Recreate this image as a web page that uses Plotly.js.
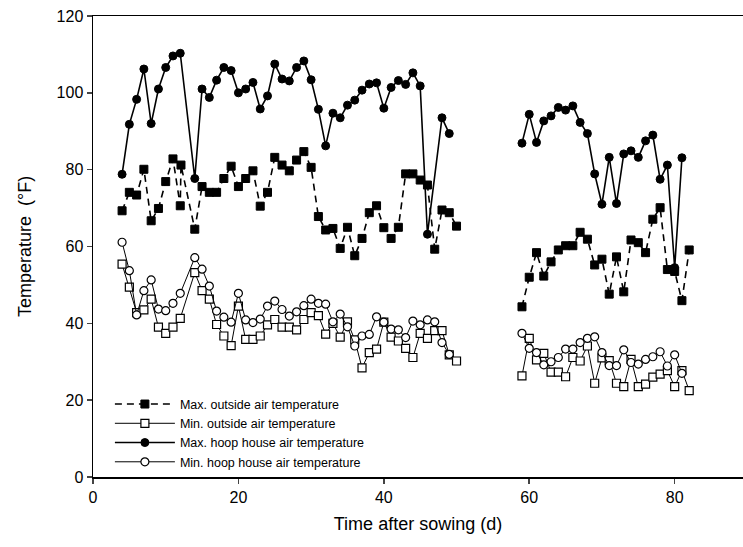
<!DOCTYPE html>
<html>
<head>
<meta charset="utf-8">
<script src="https://cdn.plot.ly/plotly-3.0.1.min.js"></script>
<style>
html,body{margin:0;padding:0;background:#fff;}
#chart{width:743px;height:547px;}
</style>
</head>
<body>
<div id="chart"></div>
<script>
// Days after sowing (null = gap between the two periods)
const daysMaxOut = [4,5,6,7,8,9,10,11,12,12.1,14,15,16,17,18,19,20,21,22,23,24,25,26,27,28,29,30,31,32,33,34,35,36,37,38,39,40,41,42,43,44,45,46,47,48,49,50,null,59,60,61,62,63,64,65,66,67,68,69,70,71,72,73,74,75,76,77,78,79,80,81,82];
const maxOutside = [69.3,74.1,73.4,80.1,66.7,69.9,76.9,82.8,70.6,81.2,64.5,75.6,74.1,74.1,77.7,80.9,75.6,77.7,79.7,70.5,74.1,83.2,81.2,79.7,82.5,84.7,80.6,67.8,64.3,64.7,59.5,65.0,57.6,62.1,68.8,70.6,64.9,62.1,65.0,78.9,78.9,77.3,76.0,59.3,69.5,68.8,65.3,null,44.3,52.0,58.4,52.3,56.0,59.1,60.2,60.2,63.7,61.9,55.2,56.7,47.6,57.3,48.2,61.7,61.0,58.4,67.1,70.1,54.0,53.5,45.9,59.1];

const daysMinOut = [4,5,6,7,8,9,10,11,12,14,15,16,17,18,19,20,21,22,23,24,25,26,27,28,29,30,31,32,33,34,35,36,37,38,39,40,41,42,43,44,45,46,47,48,49,50,null,59,60,61,62,63,64,65,66,67,68,69,70,71,72,73,74,75,76,77,78,79,80,81,82];
const minOutside = [55.4,49.4,42.8,43.5,46.3,39.0,37.4,39.0,41.3,53.2,48.5,46.3,39.7,36.7,34.2,44.5,35.8,35.8,36.7,39.6,41.0,39.0,39.0,38.3,41.0,42.8,42.0,37.2,40.0,36.4,40.4,35.7,28.4,32.4,33.3,40.3,36.4,35.4,33.5,31.1,37.4,36.1,38.1,38.1,31.8,30.2,null,26.3,36.1,30.5,32.2,27.3,27.3,26.1,31.1,30.2,34.1,24.4,31.0,30.3,24.4,23.5,30.6,23.5,24.2,26.0,26.8,27.7,23.5,27.7,22.5];

const daysMaxHoop = [4,5,6,7,8,9,10,11,12,14,15,16,17,18,19,20,21,22,23,24,25,26,27,28,29,30,31,32,33,34,35,36,37,38,39,40,41,42,43,44,45,46,48,49,null,59,60,61,62,63,64,65,66,67,68,69,70,71,72,73,74,75,76,77,78,79,80,81];
const maxHoop = [78.8,91.8,98.3,106.2,92.0,101.0,106.6,109.6,110.3,77.7,101.0,98.8,103.3,106.6,105.8,100.0,101.0,102.7,95.8,99.2,107.5,103.6,103.1,106.6,108.3,103.4,95.7,86.2,94.7,93.5,96.8,98.1,100.7,102.3,102.6,96.0,101.4,103.2,102.2,105.2,101.8,63.2,93.5,89.4,null,86.9,94.4,87.1,92.7,94.0,96.2,95.5,96.6,92.3,89.4,78.9,71.0,83.2,71.2,84.1,84.9,83.2,87.5,89.0,77.5,81.2,54.5,83.1];

const daysMinHoop = [4,5,6,7,8,9,10,11,12,14,15,16,17,18,19,20,21,22,23,24,25,26,27,28,29,30,31,32,33,34,35,36,37,38,39,40,41,42,43,44,45,46,47,48,49,null,59,60,61,62,63,64,65,66,67,68,69,70,71,72,73,74,75,76,77,78,79,80,81];
const minHoop = [61.1,53.7,42.2,48.5,51.3,43.7,43.3,45.2,47.8,57.1,54.1,49.7,43.2,41.6,40.3,47.8,40.9,40.2,41.1,44.5,45.8,43.6,41.9,43.0,44.6,46.3,45.2,45.0,40.4,42.4,39.1,34.1,36.7,37.1,41.7,40.3,38.5,38.3,36.3,40.6,39.6,40.9,40.4,35.0,31.9,null,37.4,33.5,32.4,29.2,30.0,31.1,33.3,33.3,35.0,36.1,36.5,32.4,29.0,29.0,33.1,29.8,29.4,30.6,31.3,32.6,28.9,31.8,27.0];

const seriesNames = ['Max. outside air temperature','Min. outside air temperature','Max. hoop house air temperature','Min. hoop house air temperature'];
const xTicks = [0,20,40,60,80];
const yTicks = [0,20,40,60,80,100,120];

const traces = [
  {x: daysMaxOut, y: maxOutside, name: seriesNames[0], mode: 'lines+markers', connectgaps: false,
   line: {color: '#000', width: 1.6, dash: '7px,5px'},
   marker: {symbol: 'square', size: 8, color: '#000', line: {color: '#000', width: 1}}},
  {x: daysMinOut, y: minOutside, name: seriesNames[1], mode: 'lines+markers', connectgaps: false,
   line: {color: '#000', width: 1, dash: 'solid'},
   marker: {symbol: 'square', size: 8, color: '#fff', line: {color: '#000', width: 1.2}}},
  {x: daysMaxHoop, y: maxHoop, name: seriesNames[2], mode: 'lines+markers', connectgaps: false,
   line: {color: '#000', width: 1.6},
   marker: {symbol: 'circle', size: 8, color: '#000', line: {color: '#000', width: 1}}},
  {x: daysMinHoop, y: minHoop, name: seriesNames[3], mode: 'lines+markers', connectgaps: false,
   line: {color: '#000', width: 1},
   marker: {symbol: 'circle', size: 8, color: '#fff', line: {color: '#000', width: 1.2}}}
];

const fam = 'Arial, "Liberation Sans", sans-serif';
const axisFont = {family: fam, size: 16, color: '#000'};

const layout = {
  width: 743, height: 547,
  margin: {l: 93, r: 0, t: 16, b: 70},
  paper_bgcolor: '#fff', plot_bgcolor: '#fff',
  showlegend: true,
  legend: {x: 0.026, y: 0.19, xanchor: 'left', yanchor: 'top', bgcolor: 'rgba(0,0,0,0)',
           font: {family: fam, size: 12.5, color: '#000'},
           tracegroupgap: 0, itemwidth: 60},
  xaxis: {range: [0, 89.4], tickvals: xTicks, ticks: 'outside', ticklen: 5, tickwidth: 1.5,
          showgrid: false, zeroline: false, showline: true, linecolor: '#000', linewidth: 1.5, mirror: true,
          tickfont: axisFont,
          title: {text: 'Time after sowing (d)', font: {family: fam, size: 18, color: '#000'}, standoff: 12}},
  yaxis: {range: [0, 120], tickvals: yTicks, ticks: 'outside', ticklen: 5, tickwidth: 1.5,
          showgrid: false, zeroline: false, showline: true, linecolor: '#000', linewidth: 1.5,
          tickfont: axisFont,
          title: {text: 'Temperature  (°F)', font: {family: fam, size: 18, color: '#000'}, standoff: 20}}
};

Plotly.newPlot('chart', traces, layout, {displayModeBar: false, staticPlot: true});
</script>
</body>
</html>
